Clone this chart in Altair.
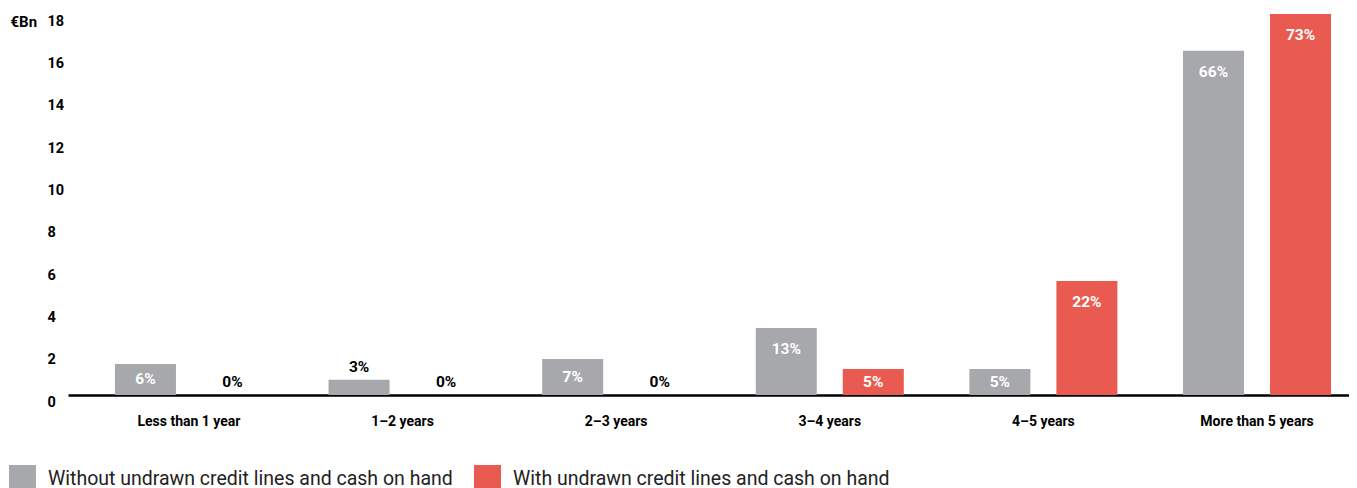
import altair as alt
import pandas as pd

categories = ["Less than 1 year", "1–2 years", "2–3 years", "3–4 years", "4–5 years", "More than 5 years"]
series_names = ["Without undrawn credit lines and cash on hand", "With undrawn credit lines and cash on hand"]
without_vals = [1.47, 0.72, 1.70, 3.17, 1.23, 16.26]
with_vals = [0.0, 0.0, 0.0, 1.23, 5.39, 18.0]
without_pct = ["6%", "3%", "7%", "13%", "5%", "66%"]
with_pct = ["0%", "0%", "0%", "5%", "22%", "73%"]
y_ticks = [0, 2, 4, 6, 8, 10, 12, 14, 16, 18]
colors = ["#a7a8ac", "#e95b50"]

rows = []
for i, c in enumerate(categories):
    rows.append({"cat": c, "series": series_names[0], "value": without_vals[i], "pct": without_pct[i]})
    rows.append({"cat": c, "series": series_names[1], "value": with_vals[i], "pct": with_pct[i]})
df = pd.DataFrame(rows)

FONT = "Roboto"

x_enc = alt.X("cat:N", sort=categories,
              scale=alt.Scale(paddingInner=0.307, paddingOuter=0.152, align=0.723),
              axis=alt.Axis(title=None, labelAngle=0, labelFont=FONT, labelFontWeight="bold",
                            labelFontSize=14, labelColor="#000", labelPadding=19,
                            ticks=False, tickSize=0, domainColor="#000", domainWidth=2.5,
                            labelLimit=300))
xoff_enc = alt.XOffset("series:N", sort=series_names,
                       scale=alt.Scale(domain=series_names, paddingInner=0.299, paddingOuter=0))

base = alt.Chart(df)

bars = base.mark_bar().encode(
    x=x_enc,
    xOffset=xoff_enc,
    y=alt.Y("value:Q", scale=alt.Scale(domain=[0, 18], nice=False),
            axis=alt.Axis(values=y_ticks, title="€Bn", titleAngle=0, titleAlign="left",
                          titleBaseline="top", titleX=-58, titleY=0, titleFont=FONT,
                          titleFontWeight="bold", titleFontSize=15, titleColor="#000",
                          labelFont=FONT, labelFontWeight="bold", labelFontSize=14.5,
                          labelColor="#000", labelAlign="left", labelBaseline="top",
                          labelPadding=21, ticks=False, tickSize=0, domain=False,
                          grid=False)),
    color=alt.Color("series:N", scale=alt.Scale(domain=series_names, range=colors),
                    legend=alt.Legend(title=None, orient="none", legendX=-59, legendY=451,
                                      direction="horizontal", symbolType="square",
                                      symbolSize=729, symbolStrokeWidth=0, symbolOpacity=1,
                                      labelFont=FONT, labelFontSize=19.5, labelColor="#222",
                                      labelOffset=12, columnPadding=21, labelLimit=1000,
                                      padding=0)),
)

labels = base.transform_calculate(
    ly="datum.value < 1 ? datum.value + 0.62 : max(datum.value - 1, datum.value / 2)"
).mark_text(font=FONT, fontWeight="bold", fontSize=15.5, baseline="middle", align="center").encode(
    x=alt.X("cat:N", sort=categories),
    xOffset=alt.XOffset("series:N", sort=series_names),
    y=alt.Y("ly:Q"),
    text="pct:N",
    color=alt.condition(alt.datum.value < 1, alt.value("#000"), alt.value("#ffffff")),
)

chart = alt.layer(bars, labels).properties(
    width=1281, height=381,
    padding={"left": 1, "top": 5, "right": 0, "bottom": 0},
    background="white",
).configure_view(stroke=None).configure_axis(grid=False)

chart.save("out.html", embed_options={"renderer": "svg", "actions": False})
